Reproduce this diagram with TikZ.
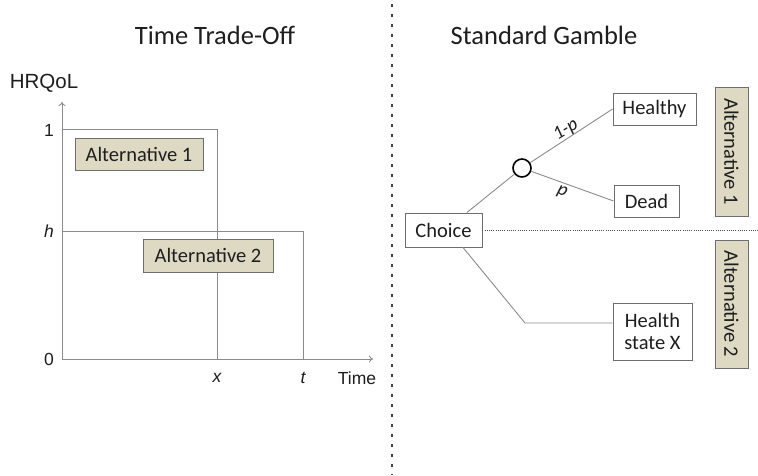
\documentclass[tikz,border=0pt]{standalone}
\usepackage{fontspec}
\setmainfont{Carlito}
\newfontfamily\arialf{Liberation Sans}
\usetikzlibrary{calc,arrows.meta}
\definecolor{txt}{HTML}{1E1E1E}
\definecolor{ln}{HTML}{8C8C8C}
\definecolor{bx}{HTML}{6E6E6E}
\definecolor{tan}{HTML}{DDD9C3}
\tikzset{
  axisline/.style={ln, line width=0.9pt},
  conn/.style={ln, line width=0.9pt},
  altbox/.style={draw=bx, fill=tan, line width=0.9pt, text=txt, font=\fontsize{20.5}{22}\selectfont, inner sep=0pt},
  wbox/.style={draw=bx, fill=white, line width=0.9pt, text=txt, font=\fontsize{20.5}{22}\selectfont, inner sep=0pt},
  ttl/.style={text=txt, font=\fontsize{26.5}{28}\selectfont},
  axlab/.style={text=txt, font=\arialf\fontsize{17.5}{19}\selectfont},
  axit/.style={text=txt, font=\arialf\itshape\fontsize{17.5}{19}\selectfont},
  plab/.style={text=txt, font=\itshape\fontsize{19}{21}\selectfont},
}
\begin{document}
\begin{tikzpicture}[x=1pt,y=-1pt]
\useasboundingbox[fill=white] (0,0) rectangle (758,475);
% titles
\node[ttl] (t1) at (215,35) {Time Trade-Off};
\node[ttl] (t2) at (544,35) {Standard Gamble};
% separator
\coordinate (sepa) at (392,4);
\coordinate (sepb) at (392,475);
\draw[black!75, line width=2.6pt, dash pattern=on 2.6pt off 7.4pt] (sepa) -- (sepb);
% TTO axes
\coordinate (O) at (62,359);
\coordinate (ytop) at (62,102);
\coordinate (xend) at (373,359);
\draw[axisline,-{To[length=4pt,width=7pt]}] (O) -- (ytop);
\draw[axisline,-{To[length=4pt,width=7pt]}] (O) -- (xend);
\node[axlab, font=\arialf\fontsize{20.5}{22}\selectfont] (hrq) at (44,83) {HRQoL};
\node[axlab] (l1) at (49,130) {1};
\node[axit] (lh) at (49,231) {h};
\node[axlab] (l0) at (49,359) {0};
\node[axit] (lx) at (217,378) {x};
\node[axit] (lt) at (303,378) {t};
\node[axlab] (ltime) at (357,378) {Time};
\coordinate (a1l) at (62,129);
\coordinate (a1r) at (217,129);
\coordinate (a1b) at (217,359);
\coordinate (a2l) at (62,231);
\coordinate (a2r) at (303,231);
\coordinate (a2b) at (303,359);
\draw[conn] (a1l) -- (a1r) -- (a1b);
\draw[conn] (a2l) -- (a2r) -- (a2b);
\node[altbox, minimum width=128pt, minimum height=32pt] (alt1) at (139,154) {Alternative 1};
\node[altbox, minimum width=130pt, minimum height=33pt] (alt2) at (208,255.5) {Alternative 2};
% Standard gamble
\node[wbox, minimum width=77pt, minimum height=34pt] (ch) at (443.5,230) {Choice};
\node[draw=black, line width=1.6pt, circle, minimum size=18pt, inner sep=0pt] (cn) at (522,168) {};
\node[wbox, minimum width=83pt, minimum height=32pt] (hl) at (654.5,109) {Healthy};
\node[wbox, minimum width=65pt, minimum height=32pt] (dd) at (646.5,201) {Dead};
\node[wbox, minimum width=79pt, minimum height=57pt, align=center] (hs) at (652.5,331.5) {Health\\state X};
\node[altbox, rotate=-90, minimum width=129pt, minimum height=33pt] (va1) at (731.5,151.5) {Alternative 1};
\node[altbox, rotate=-90, minimum width=128pt, minimum height=33pt] (va2) at (731.5,304) {Alternative 2};
\coordinate (hend) at (758,230);
\draw[black!70, line width=1pt, dash pattern=on 1pt off 1.2pt] (ch.east) -- (hend);
\draw[conn] ($(ch.north west)!0.8!(ch.north east)$) -- (cn);
\draw[conn] (cn) -- (hl.west);
\draw[conn] (cn) -- (dd.west);
\coordinate (bend) at (525,323);
\draw[conn] ($(ch.south west)!0.75!(ch.south east)$) -- (bend) -- (bend -| hs.west);
\node[plab, rotate=32] (p1) at (566,130) {1-p};
\node[plab, rotate=-20] (p2) at (562,192) {p};
\end{tikzpicture}
\end{document}
